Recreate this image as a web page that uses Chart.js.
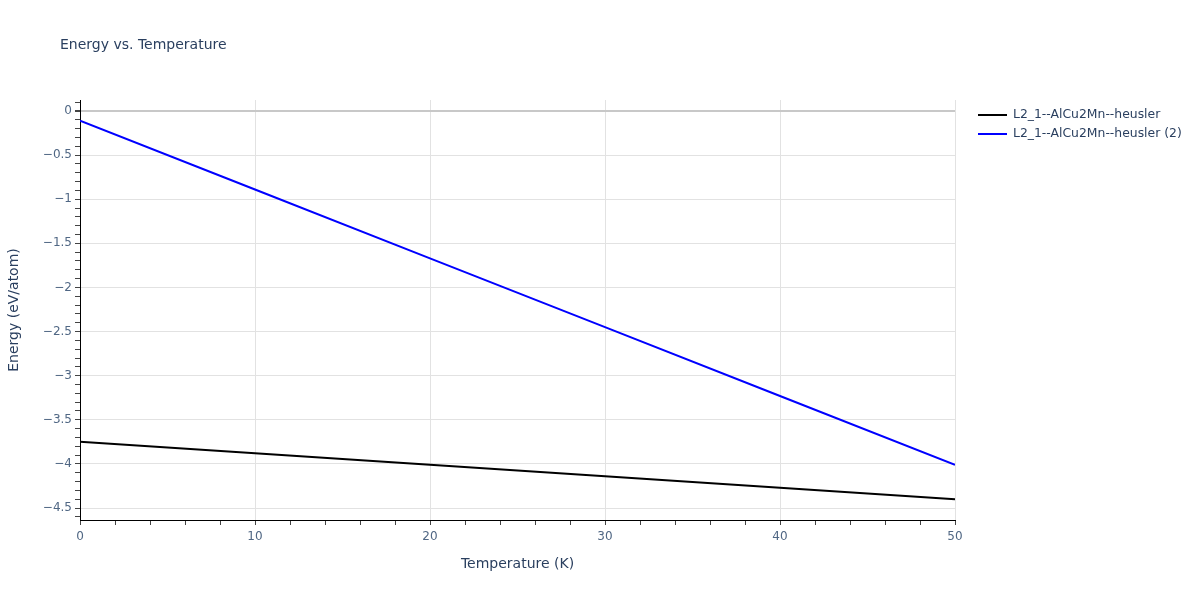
<!DOCTYPE html>
<html lang="en">
<head>
  <meta charset="UTF-8">
  <title>Energy vs. Temperature</title>
  <script src="https://cdn.jsdelivr.net/npm/chart.js"></script>
  <style>
    body { margin: 0; background: #fff; }
    #wrap { width: 1200px; height: 600px; }
  </style>
</head>
<body>
  <div id="wrap"><canvas id="chart" width="1200" height="600"></canvas></div>
  <script>
    const temps = [0, 10, 20, 30, 40, 50];
    const energyA = [-3.75, -3.88, -4.01, -4.14, -4.27, -4.40];
    const energyB = [-0.11, -0.89, -1.67, -2.45, -3.23, -4.01];
    const seriesNames = ['L2_1--AlCu2Mn--heusler', 'L2_1--AlCu2Mn--heusler (2)'];
    const seriesColors = ['#000000', '#0000ff'];

    const textColor = '#2a3f5f';
    const tickColor = '#506784';
    const font = '"DejaVu Sans", Verdana, sans-serif';

    const near = (v, step) => Math.abs(v / step - Math.round(v / step)) < 1e-6;
    const minus = v => String(v).replace('-', '\u2212');

    // title + legend drawn by hand, plotly style
    const decor = {
      id: 'decor',
      afterDraw(chart) {
        const ctx = chart.ctx;
        ctx.save();
        ctx.fillStyle = textColor;
        ctx.font = '14px ' + font;
        ctx.textBaseline = 'middle';
        ctx.textAlign = 'left';
        ctx.fillText('Energy vs. Temperature', 60, 45);

        ctx.font = '12.4px ' + font;
        chart.data.datasets.forEach((ds, i) => {
          const y = 115 + i * 19;
          ctx.strokeStyle = ds.borderColor;
          ctx.lineWidth = 2;
          ctx.beginPath();
          ctx.moveTo(978, y);
          ctx.lineTo(1007, y);
          ctx.stroke();
          ctx.fillStyle = textColor;
          ctx.fillText(ds.label, 1013, y);
        });
        ctx.restore();
      }
    };

    new Chart(document.getElementById('chart'), {
      type: 'line',
      data: {
        datasets: [
          { label: seriesNames[0], data: temps.map((t, i) => ({ x: t, y: energyA[i] })), borderColor: seriesColors[0], borderWidth: 2, pointRadius: 0, fill: false },
          { label: seriesNames[1], data: temps.map((t, i) => ({ x: t, y: energyB[i] })), borderColor: seriesColors[1], borderWidth: 2, pointRadius: 0, fill: false }
        ]
      },
      options: {
        responsive: false,
        animation: false,
        layout: { padding: { top: 100, right: 245, left: 0, bottom: 0 } },
        plugins: { legend: { display: false }, tooltip: { enabled: false } },
        scales: {
          x: {
            type: 'linear', min: 0, max: 50,
            afterFit: s => { s.height = 80; },
            afterBuildTicks: s => { s.ticks = []; for (let v = 0; v <= 50; v += 2) s.ticks.push({ value: v }); },
            ticks: {
              color: tickColor, font: { family: font, size: 12 }, padding: 5, maxRotation: 0, autoSkip: false,
              callback: v => near(v, 10) ? v : ''
            },
            grid: {
              color: c => near(c.tick.value, 10) && c.tick.value > 0 ? '#e2e2e2' : 'rgba(0,0,0,0)',
              tickColor: '#444', tickLength: 5, lineWidth: 1
            },
            border: { color: '#000', width: 1 },
            title: { display: true, text: 'Temperature (K)', color: textColor, font: { family: font, size: 14 }, padding: { top: 0, bottom: 27 } }
          },
          y: {
            type: 'linear', min: -4.636, max: 0.125,
            afterFit: s => { s.width = 80; },
            afterBuildTicks: s => {
              s.ticks = [];
              for (let k = -46; k <= 1; k++) s.ticks.push({ value: k / 10 });
            },
            ticks: {
              color: tickColor, font: { family: font, size: 12 }, padding: 3, autoSkip: false,
              callback: v => near(v, 0.5) ? minus(Math.round(v * 10) / 10) : ''
            },
            grid: {
              color: c => {
                const v = c.tick.value;
                if (Math.abs(v) < 1e-9) return '#c8c8c8';
                return near(v, 0.5) ? '#e2e2e2' : 'rgba(0,0,0,0)';
              },
              lineWidth: c => Math.abs(c.tick.value) < 1e-9 ? 2 : 1,
              tickColor: '#444', tickLength: 5
            },
            border: { color: '#000', width: 1 },
            title: { display: true, text: 'Energy (eV/atom)', color: textColor, font: { family: font, size: 14 }, padding: { top: 6, bottom: 6 } }
          }
        }
      },
      plugins: [decor]
    });
  </script>
</body>
</html>
